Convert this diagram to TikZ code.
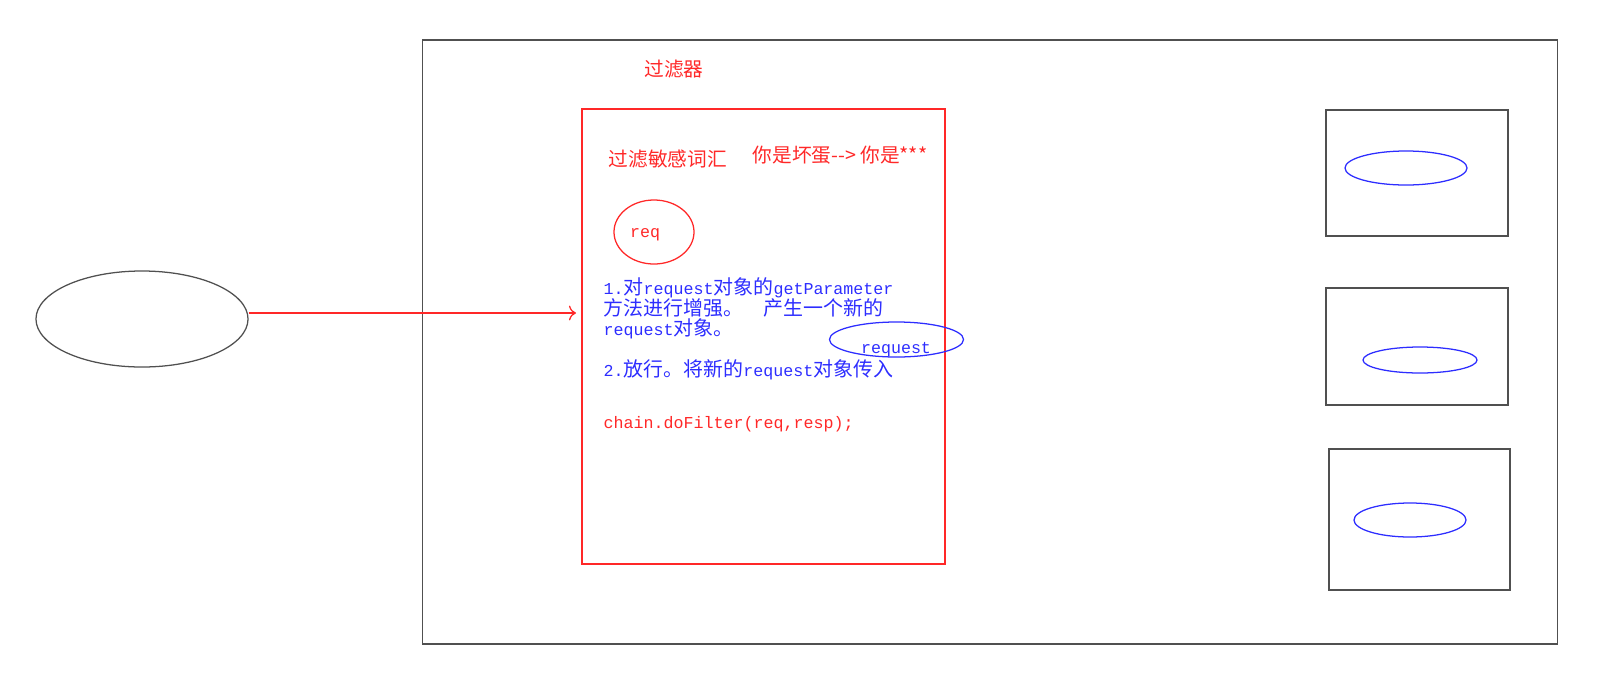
\documentclass[tikz,border=0pt]{standalone}
\usepackage{fontspec}
\usetikzlibrary{positioning,shapes.geometric,arrows.meta}
\newfontfamily\cjk{Noto Sans CJK SC}
\setmonofont{Liberation Mono}
\definecolor{linegray}{RGB}{80,80,80}
\definecolor{markred}{RGB}{255,40,40}
\definecolor{penblue}{RGB}{45,45,255}
\newcommand{\ascfont}{\ttfamily\fontsize{11.85}{13.9}\selectfont}
\newcommand{\asc}[1]{{\ascfont #1}}

\begin{document}
\begin{tikzpicture}[x=0.025cm, y=-0.025cm, line width=0.9pt,
    box/.style={draw=linegray, inner sep=0pt},
    red box/.style={draw=markred, inner sep=0pt},
    oval/.style={ellipse, draw=linegray, inner sep=0pt},
    blue oval/.style={ellipse, draw=penblue, inner sep=0pt},
    red text/.style={text=markred, inner sep=0pt, font=\cjk\fontsize{14}{14}\selectfont},
    blue text/.style={text=penblue, inner sep=0pt, align=left, font=\cjk\fontsize{14.2}{13.9}\selectfont},
    code/.style={inner sep=0pt, font=\ascfont},
    flow/.style={draw=markred, -{To[scale=1.4]}}]

  \useasboundingbox (0,0) rectangle (1606,679);

  % browser
  \node[oval, minimum width=5.3cm, minimum height=2.4cm] (browser) at (142,319) {};

  % server and filter
  \node[box, minimum width=28.35cm, minimum height=15.1cm] (server) at (990,342) {};
  \node[red box, minimum width=9.075cm, minimum height=11.375cm] (filter) at (763.5,336.5) {};
  \node[red text] (title) at (674,69) {过滤器};
  \node[red text, anchor=west] (words) at (608,159) {过滤敏感词汇};
  \node[red text, anchor=west] (sample) at (752,155) {你是坏蛋-{}-{}> 你是***};

  \node[oval, draw=markred, minimum width=2cm, minimum height=1.6cm] (req) at (654,232) {};
  \node[code, text=markred] (reqlabel) at (645,235) {req};

  \node[blue text, anchor=west] (step1) at (603,308)
    {\asc{1.}对\asc{request}对象的\asc{getParameter}\\
     方法进行增强。\hspace{0.5cm}产生一个新的\\
     \asc{request}对象。};
  \node[blue oval, minimum width=3.35cm, minimum height=0.875cm] (newreq) at (896.5,339.5) {};
  \node[code, text=penblue] (newreqlabel) at (896,350) {request};
  \node[blue text, anchor=west] (step2) at (603,370)
    {\asc{2.}放行。将新的\asc{request}对象传入};
  \node[code, text=markred, anchor=west] (chain) at (603,424) {chain.doFilter(req,resp);};

  % resources
  \node[box, minimum width=4.55cm, minimum height=3.15cm] (res1) at (1417,173) {};
  \node[blue oval, minimum width=3.05cm, minimum height=0.85cm] (item1) at (1406,168) {};
  \node[box, minimum width=4.55cm, minimum height=2.925cm] (res2) at (1417,346.5) {};
  \node[blue oval, minimum width=2.85cm, minimum height=0.65cm] (item2) at (1420,360) {};
  \node[box, minimum width=4.525cm, minimum height=3.525cm] (res3) at (1419.5,519.5) {};
  \node[blue oval, minimum width=2.8cm, minimum height=0.85cm] (item3) at (1410,520) {};

  % request into the filter
  \coordinate (tip) at (576,313);
  \draw[flow] (browser.east |- tip) -- (tip);
\end{tikzpicture}
\end{document}
